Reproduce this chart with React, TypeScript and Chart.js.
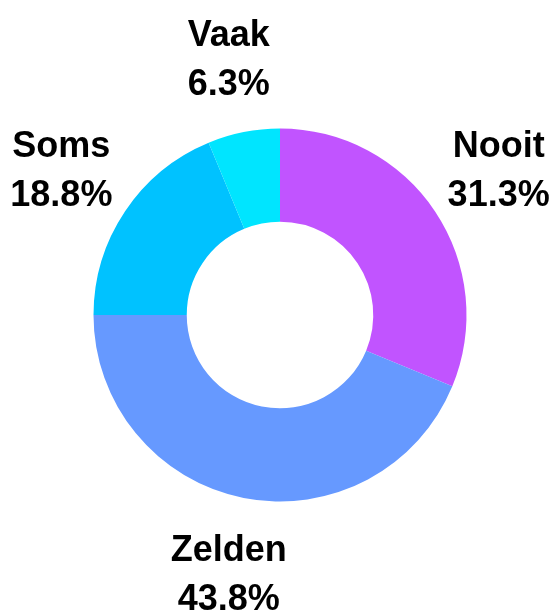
import React, { useEffect, useRef } from "react";
import { Chart, registerables } from "chart.js";

Chart.register(...registerables);

const labels = ["Nooit", "Zelden", "Soms", "Vaak"];
const values = [5, 7, 3, 1];
const percentLabels = ["31.3%", "43.8%", "18.8%", "6.3%"];
const colors = ["#C154FF", "#6699FF", "#00C2FF", "#00E5FF"];

const outerLabelPlugin = {
  id: "outerLabels",
  afterDraw(chart: any) {
    const ctx = chart.ctx;
    const meta = chart.getDatasetMeta(0);
    ctx.save();
    ctx.font = "bold 36px 'Liberation Sans', Arial, sans-serif";
    ctx.fillStyle = "#000000";
    ctx.textAlign = "center";
    ctx.textBaseline = "middle";
    meta.data.forEach((arc: any, i: number) => {
      const { x, y, startAngle, endAngle, outerRadius } = arc.getProps(
        ["x", "y", "startAngle", "endAngle", "outerRadius"],
        true
      );
      const mid = (startAngle + endAngle) / 2;
      const r = outerRadius * 1.41;
      const cx = x + Math.cos(mid) * r;
      const cy = y + Math.sin(mid) * r + 3;
      ctx.fillText(labels[i], cx, cy - 24.5);
      ctx.fillText(percentLabels[i], cx, cy + 24.5);
    });
    ctx.restore();
  },
};

export default function App() {
  const ref = useRef<HTMLCanvasElement>(null);
  useEffect(() => {
    document.body.style.margin = "0";
    const chart = new Chart(ref.current!, {
      type: "doughnut",
      data: {
        labels,
        datasets: [
          {
            data: values,
            backgroundColor: colors,
            borderWidth: 0,
          },
        ],
      },
      options: {
        animation: false,
        responsive: false,
        cutout: "50%",
        layout: { padding: { left: 93.5, right: 86.5, top: 128.5, bottom: 111.5 } },
        plugins: { legend: { display: false }, tooltip: { enabled: false } },
      },
      plugins: [outerLabelPlugin],
    });
    return () => chart.destroy();
  }, []);
  return (
    <div style={{ position: "absolute", left: 0, top: 0, width: 553, height: 613 }}>
      <canvas ref={ref} width={553} height={613} style={{ width: 553, height: 613 }} />
    </div>
  );
}
